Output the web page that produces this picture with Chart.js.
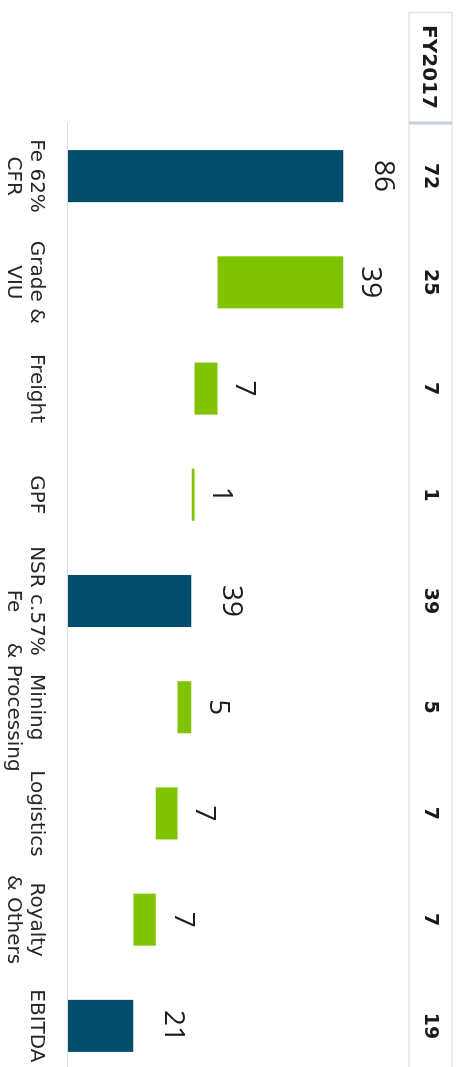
<!DOCTYPE html>
<html><head><meta charset="utf-8">
<script src="https://cdn.jsdelivr.net/npm/chart.js@4"></script>
<style>
html,body{margin:0;padding:0;background:#fff;overflow:hidden;width:458px;height:1067px;}
#wrap{position:absolute;left:0;top:0;width:1090px;height:458px;transform-origin:0 0;transform:translateX(458px) rotate(90deg);}
canvas{display:block;}
</style></head><body>
<div id="wrap"><canvas id="c" width="1090" height="458"></canvas></div>
<script>
const categories = [["Fe 62%","CFR"],["Grade &","VIU"],["Freight"],["GPF"],["NSR c.57%","Fe"],["Mining","& Processing"],["Logistics"],["Royalty","& Others"],["EBITDA"]];
const barKinds = ["total","step","step","step","total","step","step","step","total"];
const barAmounts = [86, 39.3, 7.2, 0.8, 38.5, 4.3, 6.8, 6.9, 20.4];
const valueLabels = ["86","39","7","1","39","5","7","7","21"];
const tableHeader = "FY2017";
const fy2017 = ["72","25","7","1","39","5","7","7","19"];

const DARK = '#024d6b', GREEN = '#80c400';
let level = 0;
const ranges = barAmounts.map((v,i)=>{
  if (barKinds[i]==='total'){ level=v; return [0,v]; }
  const r=[level-v, level]; level-=v; return r;
});

const overlay = {
  id:'overlay',
  afterDraw(chart){
    const ctx=chart.ctx, xs=chart.scales.x, ys=chart.scales.y, ca=chart.chartArea;
    ctx.save();
    // category labels
    ctx.fillStyle='#262626'; ctx.textAlign='center'; ctx.textBaseline='middle';
    ctx.font='20px "DejaVu Sans"';
    categories.forEach((lines,i)=>{
      const px=xs.getPixelForValue(i);
      lines.forEach((t,j)=>ctx.fillText(t, px, ca.bottom+32+j*23));
    });
    // value labels
    ctx.font='28px "Open Sans"'; ctx.fillStyle='#1e1e1e';
    valueLabels.forEach((t,i)=>{
      const px=xs.getPixelForValue(i);
      const top=ys.getPixelForValue(ranges[i][1]);
      ctx.fillText(t, px, top-(barKinds[i]==='total'?40:27));
    });
    // table
    ctx.strokeStyle='#e3e5ea'; ctx.lineWidth=1.5;
    ctx.beginPath();
    ctx.moveTo(12,49); ctx.lineTo(chart.width,49);
    ctx.moveTo(12,6); ctx.lineTo(chart.width,6);
    ctx.moveTo(12.5,6); ctx.lineTo(12.5,49);
    ctx.stroke();
    ctx.strokeStyle='#c5cede'; ctx.lineWidth=3;
    ctx.beginPath(); ctx.moveTo(123,6); ctx.lineTo(123,49); ctx.stroke();
    ctx.fillStyle='#1a1a1a';
    ctx.font='bold 20px "DejaVu Sans"';
    ctx.fillText(tableHeader, 67, 30);
    ctx.font='bold 19px "DejaVu Sans"';
    fy2017.forEach((t,i)=>ctx.fillText(t, xs.getPixelForValue(i), 28));
    ctx.restore();
  }
};

new Chart(document.getElementById('c'), {
  type:'bar',
  data:{
    labels:categories.map(l=>l.join(' ')),
    datasets:[{
      data:ranges,
      backgroundColor:barKinds.map(k=>k==='total'?DARK:GREEN),
      borderWidth:0,
      barPercentage:0.49,
      categoryPercentage:1
    }]
  },
  options:{
    responsive:false, animation:false,
    layout:{padding:{left:123,right:11,top:70,bottom:68}},
    plugins:{legend:{display:false},tooltip:{enabled:false}},
    scales:{
      x:{display:true,grid:{display:false,drawTicks:false},border:{display:true,color:'#dadada',width:1},ticks:{display:false}},
      y:{display:false,min:0,max:100}
    }
  },
  plugins:[overlay]
});
</script>
</body></html>
